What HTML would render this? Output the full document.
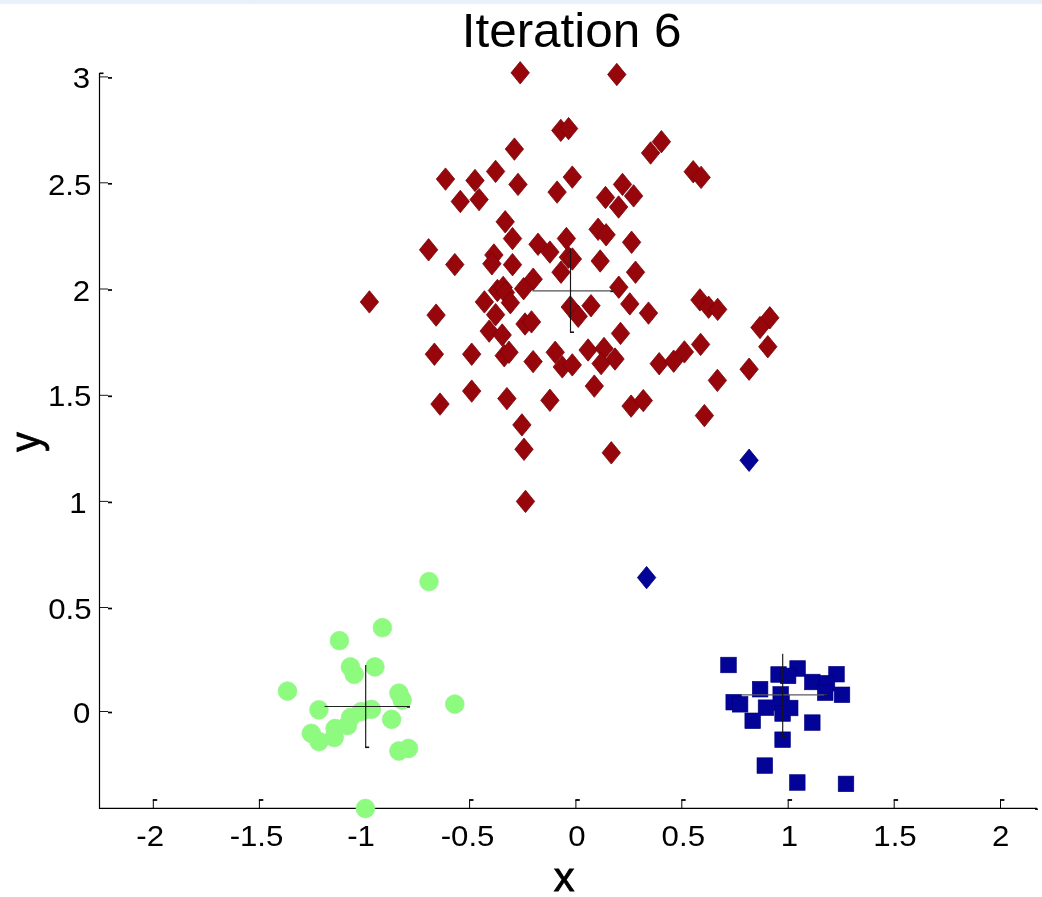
<!DOCTYPE html>
<html lang="en"><head><meta charset="utf-8"><title>Iteration 6</title>
<style>
html,body{margin:0;padding:0;background:#fff;}
body{width:1042px;height:897px;overflow:hidden;position:relative;font-family:"Liberation Sans",Arial,Helvetica,sans-serif;}
#bar{position:absolute;left:0;top:0;width:1042px;height:5px;background:linear-gradient(#e8eff8 0,#e9f0f8 60%,#ffffff 100%);}
svg{position:absolute;left:0;top:0;}
text{font-family:"Liberation Sans",Arial,Helvetica,sans-serif;fill:#000;}
.tk{font-size:30px;}
</style></head><body>
<div id="bar"></div>
<svg width="1042" height="897" viewBox="0 0 1042 897">

<g stroke="#000" stroke-width="1.2" fill="none">
<path d="M99.5 73V808.4H1037"/>
</g>
<g stroke="#000" stroke-width="1" fill="none">
<path d="M153.3 808.4V799.8"/><path d="M152.8 800.0h4.4" stroke-width="1.8"/>
<path d="M259.4 808.4V799.8"/><path d="M258.9 800.0h4.4" stroke-width="1.8"/>
<path d="M469.6 808.4V799.8"/><path d="M469.1 800.0h4.4" stroke-width="1.8"/>
<path d="M575.9 808.4V799.8"/><path d="M575.4 800.0h4.4" stroke-width="1.8"/>
<path d="M681.8 808.4V799.8"/><path d="M681.3 800.0h4.4" stroke-width="1.8"/>
<path d="M788.2 808.4V799.8"/><path d="M787.7 800.0h4.4" stroke-width="1.8"/>
<path d="M894.2 808.4V799.8"/><path d="M893.7 800.0h4.4" stroke-width="1.8"/>
<path d="M1000.5 808.4V799.8"/><path d="M1000.0 800.0h4.4" stroke-width="1.8"/>
<path d="M99.5 711.5h8.5" stroke-width="0.9"/><path d="M108.0 712.5h4" stroke-width="1.7"/>
<path d="M99.5 607.5h8.5" stroke-width="0.9"/><path d="M108.0 608.5h4" stroke-width="1.7"/>
<path d="M99.5 501.4h8.5" stroke-width="0.9"/><path d="M108.0 502.4h4" stroke-width="1.7"/>
<path d="M99.5 395.3h8.5" stroke-width="0.9"/><path d="M108.0 396.3h4" stroke-width="1.7"/>
<path d="M99.5 289.0h8.5" stroke-width="0.9"/><path d="M108.0 290.0h4" stroke-width="1.7"/>
<path d="M99.5 182.8h8.5" stroke-width="0.9"/><path d="M108.0 183.8h4" stroke-width="1.7"/>
<path d="M99.5 76.9h8.5" stroke-width="0.9"/><path d="M108.0 77.9h4" stroke-width="1.7"/>
<path d="M99.5 73.3h4" stroke-width="1.6"/>
<path d="M1035 809.1999999999999h3" stroke-width="1.4"/>
</g>
<g>
<path d="M520.2 61.6L529.4 72.8L520.2 84.0L511.0 72.8Z" fill="#97060a" stroke="#78040a" stroke-width="0.8"/>
<path d="M616.8 63.3L626.0 74.5L616.8 85.7L607.6 74.5Z" fill="#97060a" stroke="#78040a" stroke-width="0.8"/>
<path d="M560.8 119.2L570.0 130.4L560.8 141.6L551.6 130.4Z" fill="#97060a" stroke="#78040a" stroke-width="0.8"/>
<path d="M568.6 117.4L577.8 128.6L568.6 139.8L559.4 128.6Z" fill="#97060a" stroke="#78040a" stroke-width="0.8"/>
<path d="M514.4 137.9L523.6 149.1L514.4 160.3L505.2 149.1Z" fill="#97060a" stroke="#78040a" stroke-width="0.8"/>
<path d="M650.6 141.8L659.8 153.0L650.6 164.2L641.4 153.0Z" fill="#97060a" stroke="#78040a" stroke-width="0.8"/>
<path d="M661.4 130.5L670.6 141.7L661.4 152.9L652.2 141.7Z" fill="#97060a" stroke="#78040a" stroke-width="0.8"/>
<path d="M445.5 167.9L454.7 179.1L445.5 190.3L436.3 179.1Z" fill="#97060a" stroke="#78040a" stroke-width="0.8"/>
<path d="M475.0 169.3L484.2 180.5L475.0 191.7L465.8 180.5Z" fill="#97060a" stroke="#78040a" stroke-width="0.8"/>
<path d="M495.6 160.2L504.8 171.4L495.6 182.6L486.4 171.4Z" fill="#97060a" stroke="#78040a" stroke-width="0.8"/>
<path d="M518.0 173.2L527.2 184.4L518.0 195.6L508.8 184.4Z" fill="#97060a" stroke="#78040a" stroke-width="0.8"/>
<path d="M572.3 165.9L581.5 177.1L572.3 188.3L563.1 177.1Z" fill="#97060a" stroke="#78040a" stroke-width="0.8"/>
<path d="M557.1 180.9L566.3 192.1L557.1 203.3L547.9 192.1Z" fill="#97060a" stroke="#78040a" stroke-width="0.8"/>
<path d="M460.3 190.3L469.5 201.5L460.3 212.7L451.1 201.5Z" fill="#97060a" stroke="#78040a" stroke-width="0.8"/>
<path d="M479.1 188.4L488.3 199.6L479.1 210.8L469.9 199.6Z" fill="#97060a" stroke="#78040a" stroke-width="0.8"/>
<path d="M622.5 173.2L631.7 184.4L622.5 195.6L613.3 184.4Z" fill="#97060a" stroke="#78040a" stroke-width="0.8"/>
<path d="M605.5 186.3L614.7 197.5L605.5 208.7L596.3 197.5Z" fill="#97060a" stroke="#78040a" stroke-width="0.8"/>
<path d="M633.6 184.7L642.8 195.9L633.6 207.1L624.4 195.9Z" fill="#97060a" stroke="#78040a" stroke-width="0.8"/>
<path d="M618.6 195.8L627.8 207.0L618.6 218.2L609.4 207.0Z" fill="#97060a" stroke="#78040a" stroke-width="0.8"/>
<path d="M505.2 210.6L514.4 221.8L505.2 233.0L496.0 221.8Z" fill="#97060a" stroke="#78040a" stroke-width="0.8"/>
<path d="M512.5 227.4L521.7 238.6L512.5 249.8L503.3 238.6Z" fill="#97060a" stroke="#78040a" stroke-width="0.8"/>
<path d="M598.1 218.1L607.3 229.3L598.1 240.5L588.9 229.3Z" fill="#97060a" stroke="#78040a" stroke-width="0.8"/>
<path d="M606.1 223.6L615.3 234.8L606.1 246.0L596.9 234.8Z" fill="#97060a" stroke="#78040a" stroke-width="0.8"/>
<path d="M566.4 227.3L575.6 238.5L566.4 249.7L557.2 238.5Z" fill="#97060a" stroke="#78040a" stroke-width="0.8"/>
<path d="M631.6 231.1L640.8 242.3L631.6 253.5L622.4 242.3Z" fill="#97060a" stroke="#78040a" stroke-width="0.8"/>
<path d="M428.6 238.6L437.8 249.8L428.6 261.0L419.4 249.8Z" fill="#97060a" stroke="#78040a" stroke-width="0.8"/>
<path d="M538.0 233.1L547.2 244.3L538.0 255.5L528.8 244.3Z" fill="#97060a" stroke="#78040a" stroke-width="0.8"/>
<path d="M549.9 240.9L559.1 252.1L549.9 263.3L540.7 252.1Z" fill="#97060a" stroke="#78040a" stroke-width="0.8"/>
<path d="M493.9 243.8L503.1 255.0L493.9 266.2L484.7 255.0Z" fill="#97060a" stroke="#78040a" stroke-width="0.8"/>
<path d="M491.9 252.6L501.1 263.8L491.9 275.0L482.7 263.8Z" fill="#97060a" stroke="#78040a" stroke-width="0.8"/>
<path d="M454.8 253.4L464.0 264.6L454.8 275.8L445.6 264.6Z" fill="#97060a" stroke="#78040a" stroke-width="0.8"/>
<path d="M512.5 253.5L521.7 264.7L512.5 275.9L503.3 264.7Z" fill="#97060a" stroke="#78040a" stroke-width="0.8"/>
<path d="M568.4 246.0L577.6 257.2L568.4 268.4L559.2 257.2Z" fill="#97060a" stroke="#78040a" stroke-width="0.8"/>
<path d="M572.4 247.8L581.6 259.0L572.4 270.2L563.2 259.0Z" fill="#97060a" stroke="#78040a" stroke-width="0.8"/>
<path d="M600.2 249.8L609.4 261.0L600.2 272.2L591.0 261.0Z" fill="#97060a" stroke="#78040a" stroke-width="0.8"/>
<path d="M561.0 261.0L570.2 272.2L561.0 283.4L551.8 272.2Z" fill="#97060a" stroke="#78040a" stroke-width="0.8"/>
<path d="M635.5 261.0L644.7 272.2L635.5 283.4L626.3 272.2Z" fill="#97060a" stroke="#78040a" stroke-width="0.8"/>
<path d="M533.2 268.0L542.4 279.2L533.2 290.4L524.0 279.2Z" fill="#97060a" stroke="#78040a" stroke-width="0.8"/>
<path d="M523.6 277.5L532.8 288.7L523.6 299.9L514.4 288.7Z" fill="#97060a" stroke="#78040a" stroke-width="0.8"/>
<path d="M497.4 279.3L506.6 290.5L497.4 301.7L488.2 290.5Z" fill="#97060a" stroke="#78040a" stroke-width="0.8"/>
<path d="M503.2 276.2L512.4 287.4L503.2 298.6L494.0 287.4Z" fill="#97060a" stroke="#78040a" stroke-width="0.8"/>
<path d="M505.4 281.3L514.6 292.5L505.4 303.7L496.2 292.5Z" fill="#97060a" stroke="#78040a" stroke-width="0.8"/>
<path d="M510.4 291.5L519.6 302.7L510.4 313.9L501.2 302.7Z" fill="#97060a" stroke="#78040a" stroke-width="0.8"/>
<path d="M484.4 290.7L493.6 301.9L484.4 313.1L475.2 301.9Z" fill="#97060a" stroke="#78040a" stroke-width="0.8"/>
<path d="M495.6 303.5L504.8 314.7L495.6 325.9L486.4 314.7Z" fill="#97060a" stroke="#78040a" stroke-width="0.8"/>
<path d="M369.4 290.7L378.6 301.9L369.4 313.1L360.2 301.9Z" fill="#97060a" stroke="#78040a" stroke-width="0.8"/>
<path d="M436.1 303.9L445.3 315.1L436.1 326.3L426.9 315.1Z" fill="#97060a" stroke="#78040a" stroke-width="0.8"/>
<path d="M525.0 312.8L534.2 324.0L525.0 335.2L515.8 324.0Z" fill="#97060a" stroke="#78040a" stroke-width="0.8"/>
<path d="M531.5 310.7L540.7 321.9L531.5 333.1L522.3 321.9Z" fill="#97060a" stroke="#78040a" stroke-width="0.8"/>
<path d="M489.2 319.9L498.4 331.1L489.2 342.3L480.0 331.1Z" fill="#97060a" stroke="#78040a" stroke-width="0.8"/>
<path d="M502.2 323.8L511.4 335.0L502.2 346.2L493.0 335.0Z" fill="#97060a" stroke="#78040a" stroke-width="0.8"/>
<path d="M618.8 276.0L628.0 287.2L618.8 298.4L609.6 287.2Z" fill="#97060a" stroke="#78040a" stroke-width="0.8"/>
<path d="M629.8 292.7L639.0 303.9L629.8 315.1L620.6 303.9Z" fill="#97060a" stroke="#78040a" stroke-width="0.8"/>
<path d="M648.5 301.9L657.7 313.1L648.5 324.3L639.3 313.1Z" fill="#97060a" stroke="#78040a" stroke-width="0.8"/>
<path d="M591.0 294.5L600.2 305.7L591.0 316.9L581.8 305.7Z" fill="#97060a" stroke="#78040a" stroke-width="0.8"/>
<path d="M570.3 295.8L579.5 307.0L570.3 318.2L561.1 307.0Z" fill="#97060a" stroke="#78040a" stroke-width="0.8"/>
<path d="M578.2 305.1L587.4 316.3L578.2 327.5L569.0 316.3Z" fill="#97060a" stroke="#78040a" stroke-width="0.8"/>
<path d="M620.5 322.2L629.7 333.4L620.5 344.6L611.3 333.4Z" fill="#97060a" stroke="#78040a" stroke-width="0.8"/>
<path d="M434.4 343.0L443.6 354.2L434.4 365.4L425.2 354.2Z" fill="#97060a" stroke="#78040a" stroke-width="0.8"/>
<path d="M471.7 343.0L480.9 354.2L471.7 365.4L462.5 354.2Z" fill="#97060a" stroke="#78040a" stroke-width="0.8"/>
<path d="M504.2 344.5L513.4 355.7L504.2 366.9L495.0 355.7Z" fill="#97060a" stroke="#78040a" stroke-width="0.8"/>
<path d="M509.0 341.1L518.2 352.3L509.0 363.5L499.8 352.3Z" fill="#97060a" stroke="#78040a" stroke-width="0.8"/>
<path d="M533.1 350.4L542.3 361.6L533.1 372.8L523.9 361.6Z" fill="#97060a" stroke="#78040a" stroke-width="0.8"/>
<path d="M555.2 341.1L564.4 352.3L555.2 363.5L546.0 352.3Z" fill="#97060a" stroke="#78040a" stroke-width="0.8"/>
<path d="M562.3 355.7L571.5 366.9L562.3 378.1L553.1 366.9Z" fill="#97060a" stroke="#78040a" stroke-width="0.8"/>
<path d="M572.3 353.7L581.5 364.9L572.3 376.1L563.1 364.9Z" fill="#97060a" stroke="#78040a" stroke-width="0.8"/>
<path d="M588.1 338.8L597.3 350.0L588.1 361.2L578.9 350.0Z" fill="#97060a" stroke="#78040a" stroke-width="0.8"/>
<path d="M604.0 337.3L613.2 348.5L604.0 359.7L594.8 348.5Z" fill="#97060a" stroke="#78040a" stroke-width="0.8"/>
<path d="M601.1 352.4L610.3 363.6L601.1 374.8L591.9 363.6Z" fill="#97060a" stroke="#78040a" stroke-width="0.8"/>
<path d="M615.0 347.8L624.2 359.0L615.0 370.2L605.8 359.0Z" fill="#97060a" stroke="#78040a" stroke-width="0.8"/>
<path d="M659.2 352.5L668.4 363.7L659.2 374.9L650.0 363.7Z" fill="#97060a" stroke="#78040a" stroke-width="0.8"/>
<path d="M594.3 374.9L603.5 386.1L594.3 397.3L585.1 386.1Z" fill="#97060a" stroke="#78040a" stroke-width="0.8"/>
<path d="M471.7 379.9L480.9 391.1L471.7 402.3L462.5 391.1Z" fill="#97060a" stroke="#78040a" stroke-width="0.8"/>
<path d="M440.0 392.9L449.2 404.1L440.0 415.3L430.8 404.1Z" fill="#97060a" stroke="#78040a" stroke-width="0.8"/>
<path d="M506.9 387.4L516.1 398.6L506.9 409.8L497.7 398.6Z" fill="#97060a" stroke="#78040a" stroke-width="0.8"/>
<path d="M549.9 389.1L559.1 400.3L549.9 411.5L540.7 400.3Z" fill="#97060a" stroke="#78040a" stroke-width="0.8"/>
<path d="M631.1 394.9L640.3 406.1L631.1 417.3L621.9 406.1Z" fill="#97060a" stroke="#78040a" stroke-width="0.8"/>
<path d="M643.3 389.4L652.5 400.6L643.3 411.8L634.1 400.6Z" fill="#97060a" stroke="#78040a" stroke-width="0.8"/>
<path d="M521.9 413.7L531.1 424.9L521.9 436.1L512.7 424.9Z" fill="#97060a" stroke="#78040a" stroke-width="0.8"/>
<path d="M524.0 438.1L533.2 449.3L524.0 460.5L514.8 449.3Z" fill="#97060a" stroke="#78040a" stroke-width="0.8"/>
<path d="M611.3 441.6L620.5 452.8L611.3 464.0L602.1 452.8Z" fill="#97060a" stroke="#78040a" stroke-width="0.8"/>
<path d="M525.5 490.2L534.7 501.4L525.5 512.6L516.3 501.4Z" fill="#97060a" stroke="#78040a" stroke-width="0.8"/>
<path d="M693.2 160.5L702.4 171.7L693.2 182.9L684.0 171.7Z" fill="#97060a" stroke="#78040a" stroke-width="0.8"/>
<path d="M701.1 166.2L710.3 177.4L701.1 188.6L691.9 177.4Z" fill="#97060a" stroke="#78040a" stroke-width="0.8"/>
<path d="M699.9 288.7L709.1 299.9L699.9 311.1L690.7 299.9Z" fill="#97060a" stroke="#78040a" stroke-width="0.8"/>
<path d="M708.6 296.0L717.8 307.2L708.6 318.4L699.4 307.2Z" fill="#97060a" stroke="#78040a" stroke-width="0.8"/>
<path d="M717.7 298.2L726.9 309.4L717.7 320.6L708.5 309.4Z" fill="#97060a" stroke="#78040a" stroke-width="0.8"/>
<path d="M769.8 306.6L779.0 317.8L769.8 329.0L760.6 317.8Z" fill="#97060a" stroke="#78040a" stroke-width="0.8"/>
<path d="M760.0 316.3L769.2 327.5L760.0 338.7L750.8 327.5Z" fill="#97060a" stroke="#78040a" stroke-width="0.8"/>
<path d="M767.8 335.5L777.0 346.7L767.8 357.9L758.6 346.7Z" fill="#97060a" stroke="#78040a" stroke-width="0.8"/>
<path d="M749.1 358.0L758.3 369.2L749.1 380.4L739.9 369.2Z" fill="#97060a" stroke="#78040a" stroke-width="0.8"/>
<path d="M700.6 333.2L709.8 344.4L700.6 355.6L691.4 344.4Z" fill="#97060a" stroke="#78040a" stroke-width="0.8"/>
<path d="M684.4 340.7L693.6 351.9L684.4 363.1L675.2 351.9Z" fill="#97060a" stroke="#78040a" stroke-width="0.8"/>
<path d="M673.7 350.0L682.9 361.2L673.7 372.4L664.5 361.2Z" fill="#97060a" stroke="#78040a" stroke-width="0.8"/>
<path d="M717.4 369.2L726.6 380.4L717.4 391.6L708.2 380.4Z" fill="#97060a" stroke="#78040a" stroke-width="0.8"/>
<path d="M704.4 404.4L713.6 415.6L704.4 426.8L695.2 415.6Z" fill="#97060a" stroke="#78040a" stroke-width="0.8"/>
<path d="M749.1 449.1L758.3 460.3L749.1 471.5L739.9 460.3Z" fill="#030397" stroke="#00007c" stroke-width="0.8"/>
<path d="M646.6 566.4L655.8 577.6L646.6 588.8L637.4 577.6Z" fill="#030397" stroke="#00007c" stroke-width="0.8"/>
<circle cx="429.0" cy="581.6" r="9.4" fill="#8cfb7e" stroke="#9df094" stroke-width="0.7"/>
<circle cx="382.4" cy="627.7" r="9.4" fill="#8cfb7e" stroke="#9df094" stroke-width="0.7"/>
<circle cx="339.4" cy="640.7" r="9.4" fill="#8cfb7e" stroke="#9df094" stroke-width="0.7"/>
<circle cx="350.4" cy="666.9" r="9.4" fill="#8cfb7e" stroke="#9df094" stroke-width="0.7"/>
<circle cx="354.2" cy="674.4" r="9.4" fill="#8cfb7e" stroke="#9df094" stroke-width="0.7"/>
<circle cx="374.9" cy="666.9" r="9.4" fill="#8cfb7e" stroke="#9df094" stroke-width="0.7"/>
<circle cx="287.5" cy="691.1" r="9.4" fill="#8cfb7e" stroke="#9df094" stroke-width="0.7"/>
<circle cx="398.9" cy="693.1" r="9.4" fill="#8cfb7e" stroke="#9df094" stroke-width="0.7"/>
<circle cx="402.1" cy="700.0" r="9.4" fill="#8cfb7e" stroke="#9df094" stroke-width="0.7"/>
<circle cx="454.8" cy="704.1" r="9.4" fill="#8cfb7e" stroke="#9df094" stroke-width="0.7"/>
<circle cx="318.9" cy="709.8" r="9.4" fill="#8cfb7e" stroke="#9df094" stroke-width="0.7"/>
<circle cx="371.4" cy="709.4" r="9.4" fill="#8cfb7e" stroke="#9df094" stroke-width="0.7"/>
<circle cx="361.0" cy="711.7" r="9.4" fill="#8cfb7e" stroke="#9df094" stroke-width="0.7"/>
<circle cx="391.6" cy="719.3" r="9.4" fill="#8cfb7e" stroke="#9df094" stroke-width="0.7"/>
<circle cx="350.6" cy="717.5" r="9.4" fill="#8cfb7e" stroke="#9df094" stroke-width="0.7"/>
<circle cx="347.5" cy="725.5" r="9.4" fill="#8cfb7e" stroke="#9df094" stroke-width="0.7"/>
<circle cx="335.1" cy="728.5" r="9.4" fill="#8cfb7e" stroke="#9df094" stroke-width="0.7"/>
<circle cx="311.3" cy="733.3" r="9.4" fill="#8cfb7e" stroke="#9df094" stroke-width="0.7"/>
<circle cx="334.2" cy="737.5" r="9.4" fill="#8cfb7e" stroke="#9df094" stroke-width="0.7"/>
<circle cx="319.0" cy="741.6" r="9.4" fill="#8cfb7e" stroke="#9df094" stroke-width="0.7"/>
<circle cx="398.9" cy="751.0" r="9.4" fill="#8cfb7e" stroke="#9df094" stroke-width="0.7"/>
<circle cx="408.5" cy="748.5" r="9.4" fill="#8cfb7e" stroke="#9df094" stroke-width="0.7"/>
<circle cx="365.4" cy="808.5" r="9.4" fill="#8cfb7e" stroke="#9df094" stroke-width="0.7"/>
<rect x="720.7" y="657.2" width="15.6" height="15.6" fill="#030397" stroke="#00007c" stroke-width="0.6"/>
<rect x="789.8" y="660.7" width="15.6" height="15.6" fill="#030397" stroke="#00007c" stroke-width="0.6"/>
<rect x="770.8" y="666.7" width="15.6" height="15.6" fill="#030397" stroke="#00007c" stroke-width="0.6"/>
<rect x="780.3" y="668.1" width="15.6" height="15.6" fill="#030397" stroke="#00007c" stroke-width="0.6"/>
<rect x="828.7" y="666.4" width="15.6" height="15.6" fill="#030397" stroke="#00007c" stroke-width="0.6"/>
<rect x="804.5" y="674.2" width="15.6" height="15.6" fill="#030397" stroke="#00007c" stroke-width="0.6"/>
<rect x="819.2" y="675.4" width="15.6" height="15.6" fill="#030397" stroke="#00007c" stroke-width="0.6"/>
<rect x="752.3" y="681.4" width="15.6" height="15.6" fill="#030397" stroke="#00007c" stroke-width="0.6"/>
<rect x="772.9" y="686.6" width="15.6" height="15.6" fill="#030397" stroke="#00007c" stroke-width="0.6"/>
<rect x="817.4" y="684.9" width="15.6" height="15.6" fill="#030397" stroke="#00007c" stroke-width="0.6"/>
<rect x="834.2" y="687.0" width="15.6" height="15.6" fill="#030397" stroke="#00007c" stroke-width="0.6"/>
<rect x="725.9" y="694.4" width="15.6" height="15.6" fill="#030397" stroke="#00007c" stroke-width="0.6"/>
<rect x="732.3" y="696.5" width="15.6" height="15.6" fill="#030397" stroke="#00007c" stroke-width="0.6"/>
<rect x="758.2" y="699.9" width="15.6" height="15.6" fill="#030397" stroke="#00007c" stroke-width="0.6"/>
<rect x="773.7" y="694.7" width="15.6" height="15.6" fill="#030397" stroke="#00007c" stroke-width="0.6"/>
<rect x="774.8" y="705.7" width="15.6" height="15.6" fill="#030397" stroke="#00007c" stroke-width="0.6"/>
<rect x="782.4" y="700.2" width="15.6" height="15.6" fill="#030397" stroke="#00007c" stroke-width="0.6"/>
<rect x="744.9" y="713.0" width="15.6" height="15.6" fill="#030397" stroke="#00007c" stroke-width="0.6"/>
<rect x="804.5" y="714.8" width="15.6" height="15.6" fill="#030397" stroke="#00007c" stroke-width="0.6"/>
<rect x="774.8" y="731.9" width="15.6" height="15.6" fill="#030397" stroke="#00007c" stroke-width="0.6"/>
<rect x="757.0" y="757.8" width="15.6" height="15.6" fill="#030397" stroke="#00007c" stroke-width="0.6"/>
<rect x="789.5" y="774.7" width="15.6" height="15.6" fill="#030397" stroke="#00007c" stroke-width="0.6"/>
<rect x="838.2" y="776.1" width="15.6" height="15.6" fill="#030397" stroke="#00007c" stroke-width="0.6"/>
</g>
<g stroke="#161616" stroke-width="1.15" fill="none">
<path d="M532.3 290.9H613.4" stroke="#505050" stroke-width="1.2"/><path d="M610.4 291.4h3" stroke-width="1.5"/><path d="M570.5 248.6V332.6"/><path d="M570.0 332.2h4" stroke-width="1.6"/>
<path d="M324.6 706.5H410.0" stroke="#222222" stroke-width="1.2"/><path d="M407.0 707.0h3" stroke-width="1.5"/><path d="M365.7 664.9V747.7"/><path d="M365.2 747.3h4" stroke-width="1.6"/>
<path d="M741.5 694.8H827.0" stroke="#5a5a66" stroke-width="1.2"/><path d="M824.0 695.3h3" stroke-width="1.5"/><path d="M782.7 653.8V736.7"/><path d="M782.2 736.3h4" stroke-width="1.6"/>
</g>
<text transform="translate(571.6 46.9) scale(1.03 1)" font-size="48" text-anchor="middle">Iteration 6</text>
<text id="x-2" font-size="30" transform="translate(150.20 845.6) scale(1.04 1)" text-anchor="middle">-2</text>
<text id="x-1.5" font-size="30" transform="translate(256.50 845.6) scale(1.04 1)" text-anchor="middle">-1.5</text>
<text id="x-1" font-size="30" transform="translate(361.00 845.6) scale(1.04 1)" text-anchor="middle">-1</text>
<text id="x-0.5" font-size="30" transform="translate(467.55 845.6) scale(1.04 1)" text-anchor="middle">-0.5</text>
<text id="x0" font-size="30" transform="translate(576.80 845.6) scale(1.04 1)" text-anchor="middle">0</text>
<text id="x0.5" font-size="30" transform="translate(683.30 845.6) scale(1.04 1)" text-anchor="middle">0.5</text>
<text id="x1" font-size="30" transform="translate(789.50 845.6) scale(1.04 1)" text-anchor="middle">1</text>
<text id="x1.5" font-size="30" transform="translate(895.00 845.6) scale(1.04 1)" text-anchor="middle">1.5</text>
<text id="x2" font-size="30" transform="translate(1000.70 845.6) scale(1.04 1)" text-anchor="middle">2</text>
<text id="y0" font-size="30" transform="translate(90.40 723.45) scale(1.04 1)" text-anchor="end">0</text>
<text id="y0.5" font-size="30" transform="translate(91.50 619.35) scale(1.04 1)" text-anchor="end">0.5</text>
<text id="y1" font-size="30" transform="translate(86.50 513.05) scale(1.04 1)" text-anchor="end">1</text>
<text id="y1.5" font-size="30" transform="translate(91.40 406.35) scale(1.04 1)" text-anchor="end">1.5</text>
<text id="y2" font-size="30" transform="translate(90.20 300.75) scale(1.04 1)" text-anchor="end">2</text>
<text id="y2.5" font-size="30" transform="translate(91.35 194.85) scale(1.04 1)" text-anchor="end">2.5</text>
<text id="y3" font-size="30" transform="translate(90.00 88.20) scale(1.04 1)" text-anchor="end">3</text>
<text x="564" y="891.4" font-size="41.5" text-anchor="middle" stroke="#000" stroke-width="0.8">x</text>
<text transform="translate(40.1 442.1) rotate(-90) scale(0.92 1)" font-size="42.5" text-anchor="middle" stroke="#000" stroke-width="0.8">y</text>
</svg>
</body></html>
